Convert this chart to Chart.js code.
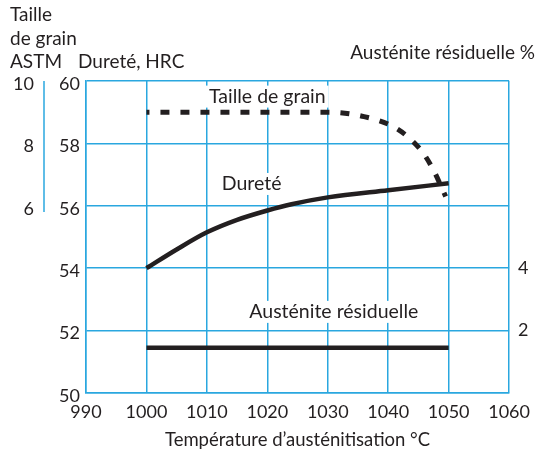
<!DOCTYPE html>
<html>
<head>
<meta charset="utf-8">
<script src="https://cdn.jsdelivr.net/npm/chart.js@4.4.1/dist/chart.umd.min.js"></script>
<style>
  html, body { margin: 0; padding: 0; background: #fff; }
  #wrap { width: 538px; height: 460px; }
</style>
</head>
<body>
<div id="wrap"><canvas id="c" width="538" height="460"></canvas></div>
<script>
// ---- Data ----
const xTicks = [990, 1000, 1010, 1020, 1030, 1040, 1050, 1060];
const hrcTicks = [50, 52, 54, 56, 58, 60];
const grainTicks = [6, 8, 10];
const austTicks = [2, 4];

// Dureté (HRC) vs température
const durTemp = [1000, 1005, 1010, 1015, 1020, 1024, 1030, 1040, 1050];
const durHRC  = [54.0, 54.6, 55.15, 55.55, 55.85, 56.05, 56.27, 56.5, 56.72];

// Taille de grain ASTM vs température
const grainTemp = [1000, 1010, 1020, 1030, 1036, 1041, 1044, 1046, 1047.6, 1049.5];
const grainASTM = [9.0, 9.0, 9.0, 9.0, 8.86, 8.52, 8.08, 7.63, 7.1, 6.3];

// Austénite résiduelle % vs température
const austTemp = [1000, 1050];
const austPct  = [1.45, 1.45];

const grainAxisEnd = 5.8; // lower end of the drawn ASTM axis line

// ---- Styles ----
const BLUE = '#2aa7df';
const INK = '#231f20';
const FONT = 'Lato, "Open Sans", sans-serif';

const toXY = (xs, ys) => xs.map((x, i) => ({x, y: ys[i]}));

const labels = [
  {text: 'Taille de grain', x: 1020.0, y: 59.5},
  {text: 'Dureté', x: 1017.4, y: 56.7},
  {text: 'Austénite résiduelle', x: 1031.0, y: 52.6}
];

const overlay = {
  id: 'overlay',
  beforeDatasetsDraw(chart) {
    const ctx = chart.ctx;
    const xs = chart.scales.x, ys = chart.scales.y;
    ctx.save();
    ctx.font = '19.5px ' + FONT;
    ctx.textAlign = 'center';
    ctx.textBaseline = 'middle';
    labels.forEach(l => {
      const px = xs.getPixelForValue(l.x), py = ys.getPixelForValue(l.y);
      const w = ctx.measureText(l.text).width;
      ctx.fillStyle = '#fff';
      ctx.fillRect(px - w / 2 - 3, py - 11, w + 6, 22);
      ctx.fillStyle = INK;
      ctx.fillText(l.text, px, py);
    });
    ctx.restore();
  },
  afterDraw(chart) {
    const ctx = chart.ctx;
    const g = chart.scales.yG;
    ctx.save();
    // partial ASTM axis line
    ctx.strokeStyle = BLUE;
    ctx.lineWidth = 1.5;
    ctx.beginPath();
    ctx.moveTo(g.right, g.getPixelForValue(10));
    ctx.lineTo(g.right, g.getPixelForValue(grainAxisEnd));
    ctx.stroke();
    // header titles
    ctx.fillStyle = INK;
    ctx.font = '19px ' + FONT;
    ctx.textBaseline = 'middle';
    ctx.textAlign = 'left';
    ctx.fillText('Taille', 10, 15);
    ctx.fillText('de grain', 10, 39);
    ctx.fillText('ASTM', 10, 62);
    ctx.fillText('Dureté, HRC', 78, 62);
    ctx.textAlign = 'right';
    ctx.fillText('Austénite résiduelle %', 535, 53);
    ctx.restore();
  }
};

const tickFont = {family: FONT, size: 18};

new Chart(document.getElementById('c'), {
  type: 'line',
  data: {
    datasets: [
      {
        label: 'Taille de grain',
        data: toXY(grainTemp, grainASTM),
        yAxisID: 'yG',
        borderColor: INK,
        borderWidth: 5,
        borderDash: [9, 11],
        borderDashOffset: 6,
        pointRadius: 0,
        cubicInterpolationMode: 'monotone',
        fill: false
      },
      {
        label: 'Dureté',
        data: toXY(durTemp, durHRC),
        yAxisID: 'y',
        borderColor: INK,
        borderWidth: 4.5,
        pointRadius: 0,
        cubicInterpolationMode: 'monotone',
        fill: false
      },
      {
        label: 'Austénite résiduelle',
        data: toXY(austTemp, austPct),
        yAxisID: 'yA',
        borderColor: INK,
        borderWidth: 4.5,
        pointRadius: 0,
        fill: false
      }
    ]
  },
  options: {
    responsive: false,
    animation: false,
    layout: {padding: {top: 81, left: 0, right: 0, bottom: 0}},
    plugins: {legend: {display: false}, tooltip: {enabled: false}},
    scales: {
      x: {
        type: 'linear',
        min: xTicks[0], max: xTicks[xTicks.length - 1],
        afterBuildTicks: s => { s.ticks = xTicks.map(v => ({value: v})); },
        afterFit: s => { s.height = 67; },
        grid: {color: BLUE, lineWidth: 1.5, drawTicks: false},
        border: {color: BLUE, width: 1.5},
        ticks: {color: INK, font: tickFont, padding: 8, maxRotation: 0, autoSkip: false,
                callback: v => String(v)},
        title: {display: true, text: 'Température d’austénitisation °C', color: INK,
                font: {family: FONT, size: 18.5}, padding: {top: 0, bottom: 9}}
      },
      y: {
        position: 'left', weight: 0,
        min: 50, max: 60,
        afterBuildTicks: s => { s.ticks = hrcTicks.map(v => ({value: v})); },
        afterFit: s => { s.width = 42; },
        grid: {color: BLUE, lineWidth: 1.5, drawTicks: false},
        border: {color: BLUE, width: 1.5},
        ticks: {color: INK, font: tickFont, padding: 6, labelOffset: 3}
      },
      yG: {
        position: 'left', weight: 1,
        min: 0, max: 10,
        afterBuildTicks: s => { s.ticks = grainTicks.map(v => ({value: v})); },
        afterFit: s => { s.width = 44; },
        grid: {display: false, drawTicks: false},
        border: {display: false},
        ticks: {color: INK, font: tickFont, padding: 10, labelOffset: 3}
      },
      yA: {
        position: 'right',
        min: 0, max: 10,
        afterBuildTicks: s => { s.ticks = austTicks.map(v => ({value: v})); },
        afterFit: s => { s.width = 20; },
        grid: {display: false, drawTicks: false},
        border: {display: false},
        ticks: {color: INK, font: tickFont, padding: 9}
      }
    }
  },
  plugins: [overlay]
});
</script>
</body>
</html>
